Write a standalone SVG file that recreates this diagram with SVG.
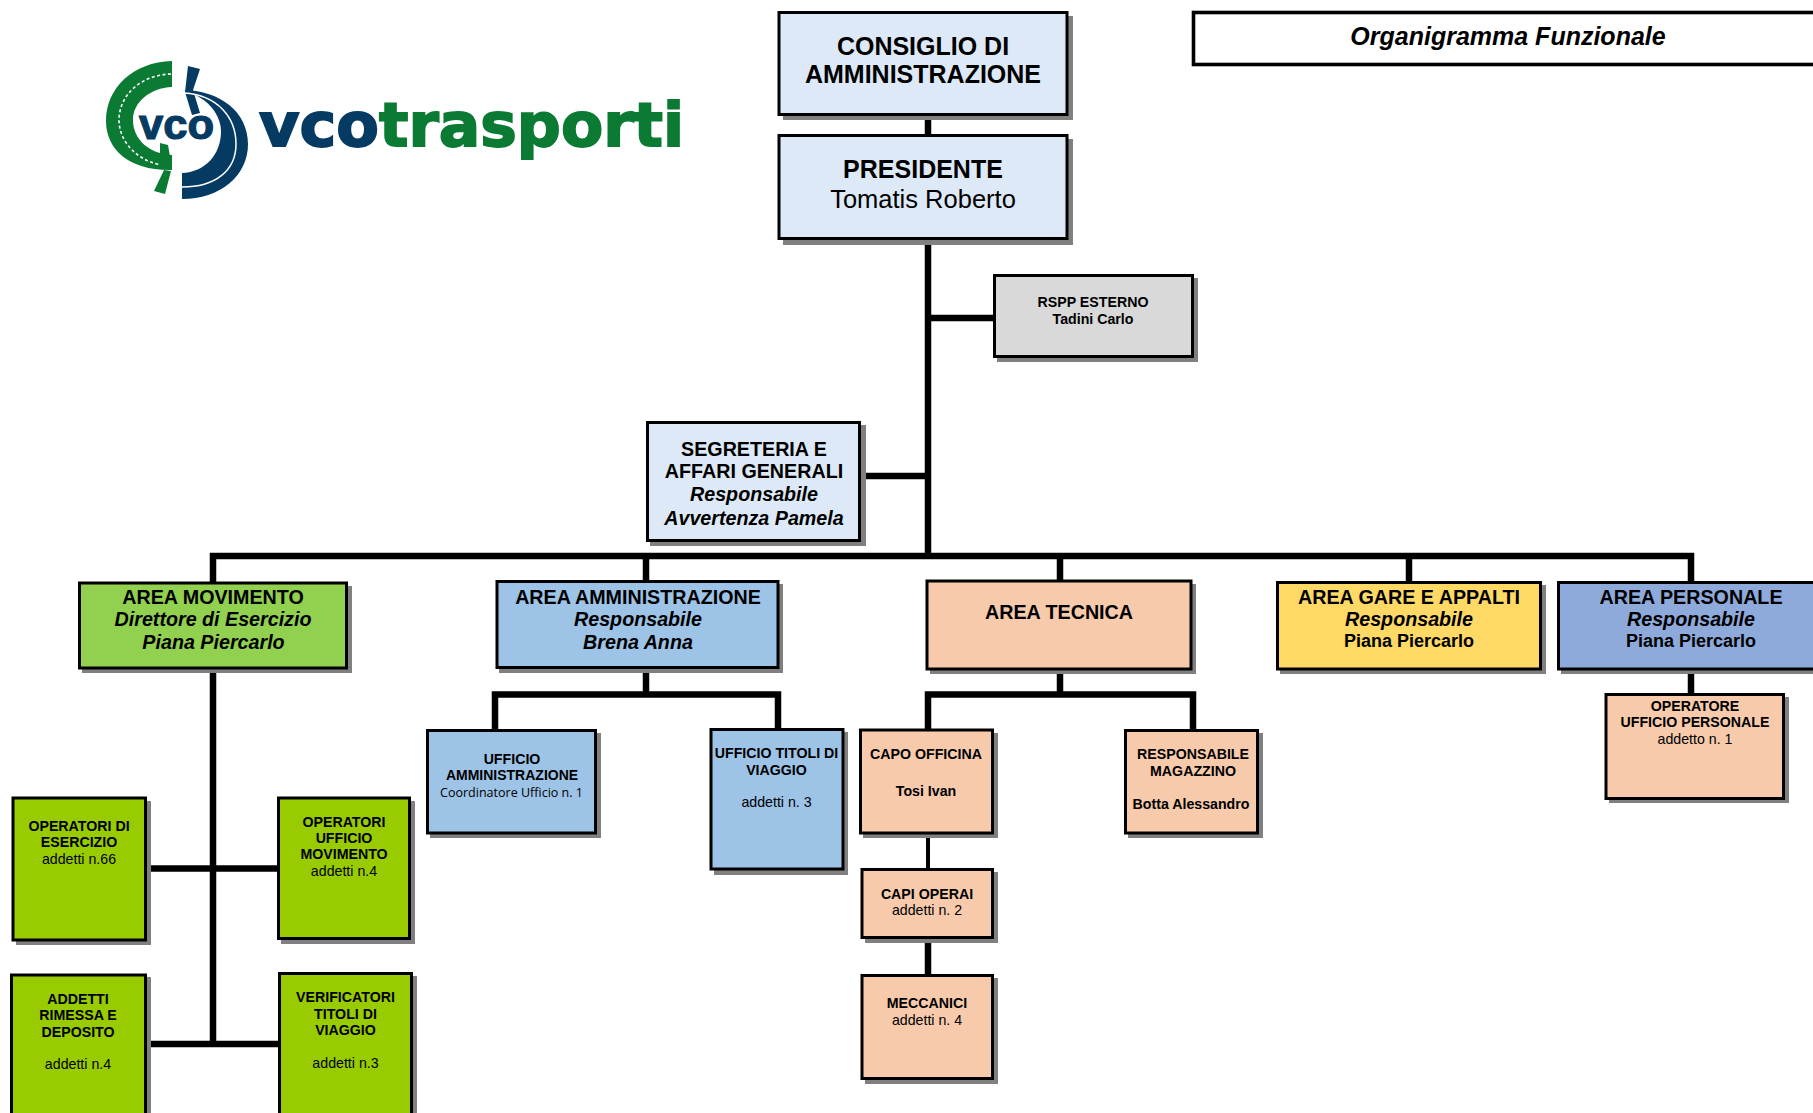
<svg xmlns="http://www.w3.org/2000/svg" width="1813" height="1113" viewBox="0 0 1813 1113">
<style>
text{font-family:"Liberation Sans",Arial,sans-serif;fill:#000;text-anchor:middle;font-size:14.2px}
.b{font-weight:700}
.i{font-weight:700;font-style:italic}
.box{stroke:#000;stroke-width:3}
.sh{fill:#808080}
.c{stroke:#000;stroke-width:6.5;fill:none}
.f19{font-size:19.7px}.f18{font-size:18px}
.lb{fill:#dde9f6}.gn{fill:#99cc00}.pe{fill:#f7caac}.bl{fill:#9dc3e6}
</style>
<g id="logo">
<path d="M172 61C133 62 106 88 106 121C106 150 130 171 172 170L172 155C150 154 133 140 133 120C133 102 150 88 172 87Z" fill="#0b7a33"/>
<path d="M171 74C140 75 119 96 119 120C119 143 140 165 171 166" fill="none" stroke="#fff" stroke-width="1.6" stroke-dasharray="3 2.5"/>
<path d="M160 143L168 145L172 168L160 167ZM164 170L171 171L165 194L154 191Z" fill="#0b7a33"/>
<path d="M188 66L200 69L193 90L200 113L192 115L185 92Z" fill="#053b63"/>
<path d="M182 90C220 90 248 112 248 144C248 176 220 199 182 199L182 173C205 172 221 155 221 131C221 118 212 104 199 97L187 90Z" fill="#053b63"/>
<path d="M184 93C218 95 236 118 236 144C236 171 215 187 182 187" fill="none" stroke="#fff" stroke-width="1.5"/>
<text x="176.500" y="139" class="b" style="font-size:43px;fill:#053b63;stroke:#053b63;stroke-width:1.2" textLength="75" lengthAdjust="spacingAndGlyphs">vco</text>
<text x="259" y="146" style="font-family:'DejaVu Sans',sans-serif;font-weight:700;font-size:61px;text-anchor:start;fill:#053b63;stroke:#053b63;stroke-width:1.800" textLength="120" lengthAdjust="spacingAndGlyphs">vco</text>
<text x="379" y="146" style="font-family:'DejaVu Sans',sans-serif;font-weight:700;font-size:61px;text-anchor:start;fill:#0b7a33;stroke:#0b7a33;stroke-width:1.800" textLength="305" lengthAdjust="spacingAndGlyphs">trasporti</text>
</g>
<g id="connectors" class="cs">
<path class="c" d="M928 115V556"/>
<path class="c" d="M928 318H995"/>
<path class="c" d="M928 476H860"/>
<path class="c" d="M213 582V556H1691V582"/>
<path class="c" d="M646 556V582"/>
<path class="c" d="M1060 556V582"/>
<path class="c" d="M1409 556V582"/>
<path class="c" d="M213 660V1044"/>
<path class="c" d="M145 868.500H279"/>
<path class="c" d="M145 1044H280"/>
<path class="c" d="M646 665V694.500"/>
<path class="c" d="M495 730V694.500H778V730"/>
<path class="c" d="M1060 665V694.500"/>
<path class="c" d="M928 730V694.500H1193V730"/>
<path class="c" style="stroke-width:4" d="M928 830V870"/>
<path class="c" d="M928 935V976"/>
<path class="c" d="M1691 665V695"/>
</g>
<g id="title"><rect x="1193.500" y="12.500" width="640" height="52" fill="#fff" class="box" style="stroke-width:3.600"/><text x="1508" y="45" class="i" style="font-size:25px">Organigramma Funzionale</text></g>
<g id="consiglio"><rect class="sh" x="783" y="16" width="290" height="104"/><rect class="box lb" x="779" y="12.500" width="288" height="102"/><text x="923" y="55" class="b" style="font-size:25px">CONSIGLIO DI</text><text x="923" y="83" class="b" style="font-size:25px">AMMINISTRAZIONE</text></g>
<g id="presidente"><rect class="sh" x="783" y="139" width="290" height="106"/><rect class="box lb" x="779" y="135.500" width="288" height="103"/><text x="923" y="178" class="b" style="font-size:25px">PRESIDENTE</text><text x="923" y="208" style="font-size:25.500px">Tomatis Roberto</text></g>
<g id="rspp"><rect class="sh" x="997" y="278" width="201" height="84"/><rect class="box" fill="#d9d9d9" x="994.500" y="275.500" width="198" height="81"/><text x="1093" y="307" class="b">RSPP ESTERNO</text><text x="1093" y="324" class="b">Tadini Carlo</text></g>
<g id="segreteria"><rect class="sh" x="650" y="425" width="216" height="121"/><rect class="box lb" x="647.500" y="422.500" width="212" height="118"/><text x="754" y="456" class="b f19">SEGRETERIA E</text><text x="754" y="478" class="b f19">AFFARI GENERALI</text><text x="754" y="501" class="i f19">Responsabile</text><text x="754" y="525" class="i f19">Avvertenza Pamela</text></g>
<g id="area-movimento"><rect class="sh" x="82" y="586" width="270" height="87"/><rect fill="#92d050" class="box" x="79.500" y="583" width="267" height="85"/><text x="213" y="604" class="b f19">AREA MOVIMENTO</text><text x="213" y="626" class="i f19">Direttore di Esercizio</text><text x="213.500" y="649" class="i f19">Piana Piercarlo</text></g>
<g id="area-amministrazione"><rect class="sh" x="499" y="584" width="284" height="89"/><rect class="box bl" x="497" y="581.500" width="281" height="86"/><text x="638" y="604" class="b f19">AREA AMMINISTRAZIONE</text><text x="638" y="626" class="i f19">Responsabile</text><text x="638" y="649" class="i f19">Brena Anna</text></g>
<g id="area-tecnica"><rect class="sh" x="930" y="584" width="266" height="90"/><rect class="box pe" x="927" y="581" width="264" height="88"/><text x="1059" y="618.500" class="b f19">AREA TECNICA</text></g>
<g id="area-gare"><rect class="sh" x="1280" y="585" width="266" height="89"/><rect fill="#ffd966" class="box" x="1277.500" y="582.500" width="263" height="86.500"/><text x="1409" y="603.500" class="b f19">AREA GARE E APPALTI</text><text x="1409" y="625.500" class="i f19">Responsabile</text><text x="1409" y="646.500" class="b f18">Piana Piercarlo</text></g>
<g id="area-personale"><rect class="sh" x="1561" y="585" width="270" height="89"/><rect fill="#8eaadb" class="box" x="1558.500" y="582.500" width="270" height="86.500"/><text x="1691" y="603.500" class="b f19">AREA PERSONALE</text><text x="1691" y="625.500" class="i f19">Responsabile</text><text x="1691" y="646.500" class="b f18">Piana Piercarlo</text></g>
<g id="operatori-esercizio"><rect class="sh" x="16" y="801" width="135" height="144"/><rect class="box gn" x="13" y="798" width="132.500" height="142"/><text x="79" y="831" class="b">OPERATORI DI</text><text x="79" y="847" class="b">ESERCIZIO</text><text x="79" y="864">addetti n.66</text></g>
<g id="operatori-ufficio"><rect class="sh" x="281" y="801" width="134" height="143"/><rect class="box gn" x="278.500" y="798" width="131" height="140.500"/><text x="344" y="827" class="b">OPERATORI</text><text x="344" y="843" class="b">UFFICIO</text><text x="344" y="859" class="b">MOVIMENTO</text><text x="344" y="876">addetti n.4</text></g>
<g id="addetti-rimessa"><rect class="sh" x="14" y="977" width="137" height="160"/><rect class="box gn" x="11.500" y="975" width="134" height="160"/><text x="78" y="1004" class="b">ADDETTI</text><text x="78" y="1020" class="b">RIMESSA E</text><text x="78" y="1037" class="b">DEPOSITO</text><text x="78" y="1069">addetti n.4</text></g>
<g id="verificatori"><rect class="sh" x="282" y="976" width="135" height="160"/><rect class="box gn" x="279.500" y="973.500" width="132" height="160"/><text x="345.500" y="1002" class="b">VERIFICATORI</text><text x="345.500" y="1019" class="b">TITOLI DI</text><text x="345.500" y="1035" class="b">VIAGGIO</text><text x="345.500" y="1068">addetti n.3</text></g>
<g id="ufficio-amministrazione"><rect class="sh" x="430" y="733" width="171" height="105"/><rect class="box bl" x="427.500" y="730.500" width="168" height="102.500"/><text x="512" y="764" class="b">UFFICIO</text><text x="512" y="780" class="b" style="font-size:14px">AMMINISTRAZIONE</text><text x="511.500" y="797" style="font-family:'Open Sans',sans-serif;font-size:12.500px" textLength="143" lengthAdjust="spacingAndGlyphs">Coordinatore Ufficio n. 1</text></g>
<g id="ufficio-titoli"><rect class="sh" x="714" y="732" width="134" height="143"/><rect class="box bl" x="711" y="729.500" width="132" height="139.500"/><text x="776.500" y="757.500" class="b">UFFICIO TITOLI DI</text><text x="776.500" y="774.500" class="b">VIAGGIO</text><text x="776.500" y="806.500">addetti n. 3</text></g>
<g id="capo-officina"><rect class="sh" x="863" y="733" width="135" height="105"/><rect class="box pe" x="860.500" y="730" width="132" height="103"/><text x="926" y="758.500" class="b">CAPO OFFICINA</text><text x="926" y="796" class="b">Tosi Ivan</text></g>
<g id="responsabile-magazzino"><rect class="sh" x="1128" y="733" width="135" height="105"/><rect class="box pe" x="1125.500" y="730.500" width="132" height="102.500"/><text x="1193" y="758.500" class="b">RESPONSABILE</text><text x="1193" y="775.500" class="b">MAGAZZINO</text><text x="1191" y="808.500" class="b">Botta Alessandro</text></g>
<g id="capi-operai"><rect class="sh" x="865" y="872" width="133" height="71"/><rect class="box pe" x="862" y="869.500" width="130.500" height="68"/><text x="927" y="899" class="b">CAPI OPERAI</text><text x="927" y="915">addetti n. 2</text></g>
<g id="meccanici"><rect class="sh" x="865" y="978" width="133" height="106"/><rect class="box pe" x="862" y="975.500" width="130.500" height="103"/><text x="927" y="1008" class="b">MECCANICI</text><text x="927" y="1025">addetti n. 4</text></g>
<g id="operatore-personale"><rect class="sh" x="1609" y="697" width="180" height="106"/><rect class="box pe" x="1606" y="694.500" width="177.500" height="104"/><text x="1695" y="710.500" class="b">OPERATORE</text><text x="1695" y="726.500" class="b">UFFICIO PERSONALE</text><text x="1695" y="743.500">addetto n. 1</text></g>
</svg>
